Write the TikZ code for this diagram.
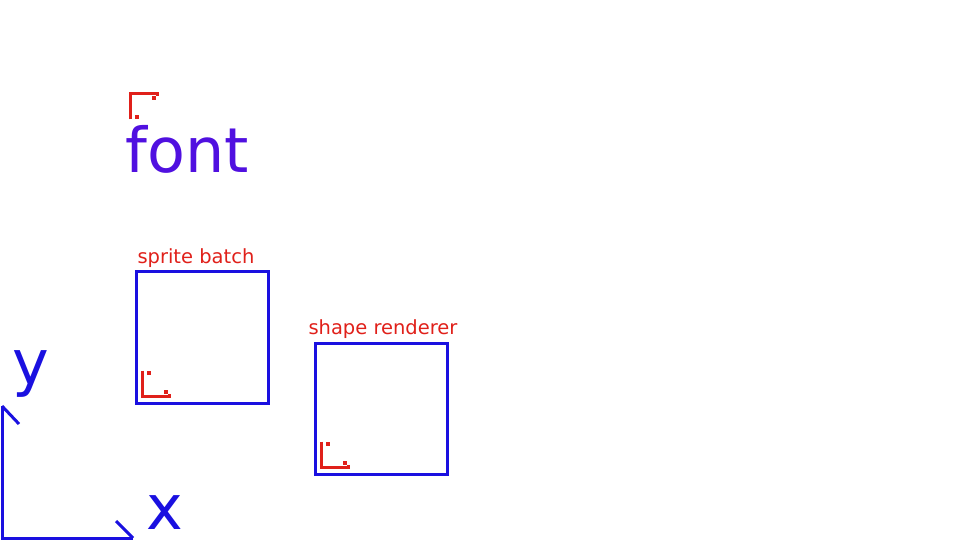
\documentclass[tikz,border=0pt]{standalone}
\usepackage{fontspec}
\setmainfont{DejaVu Sans}
\definecolor{boxblue}{HTML}{1A10E0}
\definecolor{fontpurple}{HTML}{5010E0}
\definecolor{markred}{HTML}{E0201A}
\begin{document}
\begin{tikzpicture}[x=1pt, y=-1pt, line width=3pt,
  panel/.style={draw=boxblue, line width=3pt, minimum width=131.5pt, minimum height=131.5pt, inner sep=0pt},
  tag/.style={text=markred, font=\fontsize{19.5}{22}\selectfont, inner sep=0pt, anchor=base west},
  big/.style={font=\fontsize{62}{70}\selectfont, inner sep=0pt, anchor=base west},
  axis/.style={draw=boxblue, line width=3pt},
  cornermark/.pic={
    \draw[markred, line width=3pt] (0,-26) -- (0,0) -- (27,0) -- (27,-3);
    \fill[markred] (4.5,-25.5) rectangle (8.5,-21.5);
    \fill[markred] (21.5,-6.5) rectangle (25.5,-2.5);
  }]
\useasboundingbox (0,0) rectangle (960,540);

% the axes
\coordinate (origin) at (2,538);
\coordinate (ytip) at (2,406);
\coordinate (xtip) at (133,538);
\draw[axis] (ytip) -- (origin) -- (xtip);
\draw[axis] (ytip) -- ++(17,18);
\draw[axis] (xtip) -- ++(-17,-17);
\node[big, text=boxblue] (ylabel) at (11,384) {y};
\node[big, text=boxblue] (xlabel) at (145,529) {x};

% the font
\node[big, text=fontpurple] (fonttext) at (124,173) {font};
\pic[yscale=-1] at (130,93.5) {cornermark};

% the two panels
\node[panel] (batch) at (202.25,337.5) {};
\node[tag] (batchtag) at (136,263) {sprite batch};
\pic at (142.5,396.5) {cornermark};

\node[panel] (shapes) at (381.5,409) {};
\node[tag] (shapestag) at (307,334) {shape renderer};
\pic at (321.5,467.5) {cornermark};
\end{tikzpicture}
\end{document}
